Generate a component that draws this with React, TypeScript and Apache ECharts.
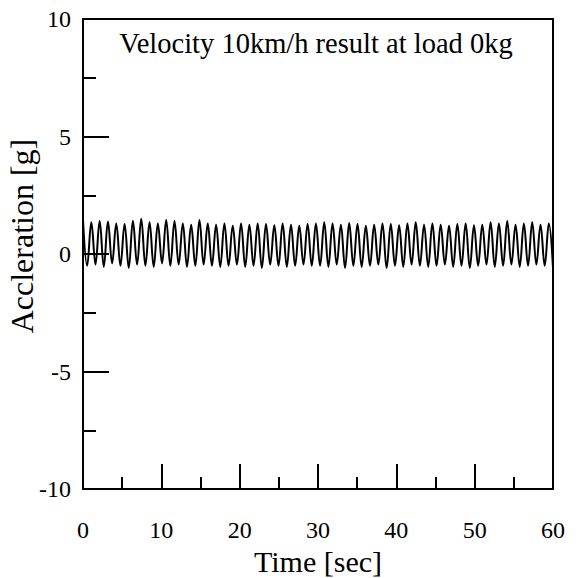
import React, { useEffect, useRef } from "react";
import * as echarts from "echarts";

// Peak and trough accelerations [g] of each oscillation cycle
const peaks = [
  1.45, 1.35, 1.4, 1.38, 1.3, 1.28, 1.42, 1.5, 1.35, 1.3, 1.45, 1.4, 1.3, 1.25,
  1.45, 1.3, 1.25, 1.3, 1.2, 1.3, 1.25, 1.3, 1.28, 1.22, 1.3, 1.25, 1.2, 1.28,
  1.3, 1.35, 1.3, 1.25, 1.32, 1.28, 1.2, 1.25, 1.3, 1.28, 1.22, 1.3, 1.35, 1.25,
  1.3, 1.25, 1.2, 1.28, 1.3, 1.22, 1.25, 1.35, 1.3, 1.4, 1.25, 1.3, 1.35, 1.25, 1.3,
];
const troughs = [
  -0.5, -0.45, -0.55, -0.4, -0.5, -0.6, -0.45, -0.5, -0.55, -0.4, -0.5, -0.45, -0.55, -0.5,
  -0.45, -0.5, -0.55, -0.5, -0.45, -0.55, -0.5, -0.6, -0.45, -0.5, -0.55, -0.5, -0.45, -0.5,
  -0.5, -0.55, -0.45, -0.6, -0.5, -0.55, -0.5, -0.45, -0.6, -0.5, -0.55, -0.45, -0.5, -0.55,
  -0.5, -0.45, -0.55, -0.5, -0.6, -0.5, -0.45, -0.55, -0.5, -0.45, -0.55, -0.5, -0.45, -0.5, -0.6,
];
const timeSpan = 60; // seconds recorded
const titleText = "Velocity 10km/h result at load 0kg";
const xName = "Time [sec]";
const yName = "Accleration [g]";

const FONT = "Liberation Serif";

export default function App() {
  const ref = useRef<HTMLDivElement>(null);
  useEffect(() => {
    if (!ref.current) return;
    const chart = echarts.init(ref.current, null, { renderer: "svg" });
    const samples: number[] = [];
    for (let i = 0; i < peaks.length; i++) {
      samples.push(peaks[i]);
      samples.push(troughs[i]);
    }
    const dt = timeSpan / (samples.length - 1);
    const data = samples.map((v, i) => [i * dt, v]);
    const left = 83, right = 553, top = 19, bottom = 489;
    chart.setOption({
      animation: false,
      grid: {
        left,
        top,
        width: right - left,
        height: bottom - top,
        outerBoundsMode: "none",
        containLabel: false,
        show: true,
        borderColor: "#000",
        borderWidth: 2,
        backgroundColor: "transparent",
      },
      graphic: [
        {
          type: "text",
          x: 316,
          y: 43,
          style: {
            text: titleText,
            fontFamily: FONT,
            fontSize: 28.5,
            fill: "#000",
            textAlign: "center",
            textVerticalAlign: "middle",
          },
        },
        {
          type: "text",
          x: 22,
          y: 236,
          rotation: Math.PI / 2,
          style: {
            text: yName,
            fontFamily: FONT,
            fontSize: 32,
            fill: "#000",
            textAlign: "center",
            textVerticalAlign: "middle",
          },
        },
      ],
      xAxis: {
        type: "value",
        min: 0,
        max: 60,
        interval: 10,
        name: xName,
        nameLocation: "middle",
        nameGap: 52,
        nameTextStyle: { fontFamily: FONT, fontSize: 30, color: "#000" },
        axisLine: { show: true, onZero: false, lineStyle: { color: "#000", width: 2 } },
        axisTick: { show: true, inside: true, length: 25, lineStyle: { color: "#000", width: 2 } },
        minorTick: { show: true, splitNumber: 2, length: 12, lineStyle: { color: "#000", width: 2 } },
        axisLabel: { fontFamily: FONT, fontSize: 24, color: "#000", margin: 29 },
        splitLine: { show: false },
        minorSplitLine: { show: false },
      },
      yAxis: {
        type: "value",
        min: -10,
        max: 10,
        interval: 5,
        axisLine: { show: true, onZero: false, lineStyle: { color: "#000", width: 2 } },
        axisTick: { show: true, inside: true, length: 26, lineStyle: { color: "#000", width: 2 } },
        minorTick: { show: true, splitNumber: 2, length: 13, lineStyle: { color: "#000", width: 2 } },
        axisLabel: { fontFamily: FONT, fontSize: 24, color: "#000", margin: 12 },
        splitLine: { show: false },
        minorSplitLine: { show: false },
      },
      series: [
        {
          type: "line",
          data,
          showSymbol: false,
          symbol: "none",
          lineStyle: { color: "#000", width: 2 },
          smooth: 0.4,
        },
      ],
    });
    return () => chart.dispose();
  }, []);
  return (
    <div
      ref={ref}
      style={{ position: "fixed", left: 0, top: 0, width: 576, height: 578, background: "#fff" }}
    />
  );
}
